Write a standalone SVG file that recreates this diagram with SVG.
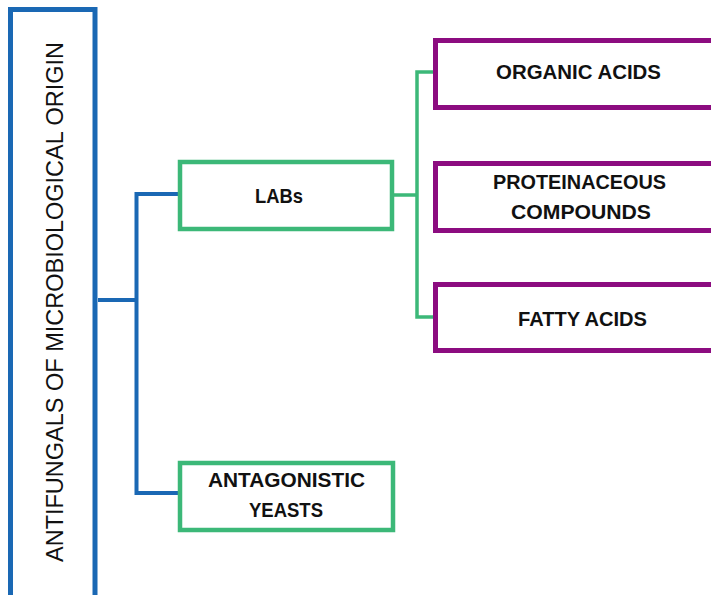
<svg xmlns="http://www.w3.org/2000/svg" width="711" height="595" viewBox="0 0 711 595">
<style>
.bl{fill:#fff;stroke:#1a68b4;stroke-width:5}
.gr{fill:#fff;stroke:#3cb878;stroke-width:4.5}
.pu{fill:#fff;stroke:#8c0c80;stroke-width:5}
.lb{font-family:"Liberation Sans",Arial,sans-serif;font-weight:bold;font-size:21px;fill:#111;text-anchor:middle}
.tt{font-family:"Liberation Sans",Arial,sans-serif;font-size:23.5px;fill:#111;text-anchor:middle}
</style>
<rect width="711" height="595" fill="#fff"/>
<g id="connectors" fill="none">
<path d="M98,300 H136.5 M180,194 H136.5 V493 H180" stroke="#1a68b4" stroke-width="4"/>
<path d="M394,195 H417 M433,72 H417 V317 H433" stroke="#3cb878" stroke-width="3.5"/>
</g>
<g id="root">
<rect class="bl" x="10.5" y="9.5" width="84.5" height="700"/>
<text class="tt" transform="translate(63,302) rotate(-90)" textLength="520" lengthAdjust="spacingAndGlyphs">ANTIFUNGALS OF MICROBIOLOGICAL ORIGIN</text>
</g>
<g id="labs">
<rect class="gr" x="180" y="162" width="212" height="67"/>
<text class="lb" x="279" y="203" textLength="48" lengthAdjust="spacingAndGlyphs">LABs</text>
</g>
<g id="yeasts">
<rect class="gr" x="180" y="463" width="213" height="67"/>
<text class="lb" x="286.5" y="487" textLength="157" lengthAdjust="spacingAndGlyphs">ANTAGONISTIC</text>
<text class="lb" x="286" y="517" textLength="74" lengthAdjust="spacingAndGlyphs">YEASTS</text>
</g>
<g id="organic">
<rect class="pu" x="435.5" y="40.5" width="290" height="67"/>
<text class="lb" x="578.5" y="79" textLength="165" lengthAdjust="spacingAndGlyphs">ORGANIC ACIDS</text>
</g>
<g id="proteinaceous">
<rect class="pu" x="435.5" y="163.5" width="290" height="67"/>
<text class="lb" x="579.5" y="189" textLength="173" lengthAdjust="spacingAndGlyphs">PROTEINACEOUS</text>
<text class="lb" x="581" y="219" textLength="140" lengthAdjust="spacingAndGlyphs">COMPOUNDS</text>
</g>
<g id="fatty">
<rect class="pu" x="435.5" y="284.5" width="290" height="66"/>
<text class="lb" x="582.5" y="326" textLength="129" lengthAdjust="spacingAndGlyphs">FATTY ACIDS</text>
</g>
</svg>
